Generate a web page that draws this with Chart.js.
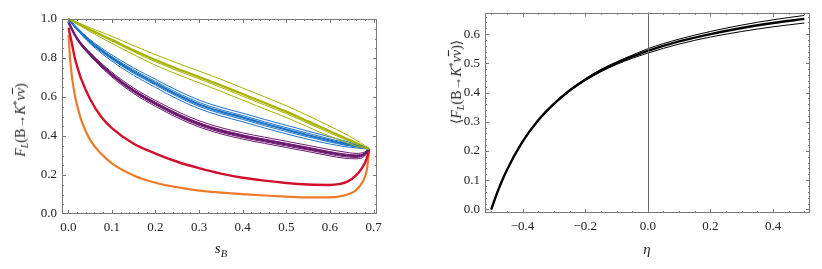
<!DOCTYPE html>
<html>
<head>
<meta charset="utf-8">
<script src="https://cdn.jsdelivr.net/npm/chart.js@4.4.1/dist/chart.umd.min.js"></script>
<style>
  body { margin: 0; background: #fff; width: 822px; height: 269px; overflow: hidden; position: relative; font-family: "Liberation Serif", "DejaVu Serif", serif; }
  canvas { position: absolute; top: 0; }
  .lbl { position: absolute; white-space: nowrap; font-size: 14px; color: #222; line-height: 1; transform: translate(-50%, -50%); }
  .lbl.rot { transform: translate(-50%, -50%) rotate(-90deg); }
  .lbl sub { font-size: 70%; vertical-align: -0.35em; }
  .lbl sup { font-size: 70%; vertical-align: 0.5em; }
  .ov { text-decoration: overline; }
</style>
</head>
<body>
<canvas id="leftChart" width="410" height="269" style="left:0"></canvas>
<canvas id="rightChart" width="412" height="269" style="left:410px"></canvas>

<div class="lbl" style="left:221px; top:250px; font-size:15px;"><i>s<sub>B</sub></i></div>
<div class="lbl rot" style="left:21px; top:120px;"><i>F<sub>L</sub></i>(B→<i>K</i><sup>*</sup><i>ν</i><i class="ov">ν</i>)</div>
<div class="lbl" style="left:647px; top:249px; font-size:15px;"><i>η</i></div>
<div class="lbl rot" style="left:457px; top:82px;">⟨<i>F<sub>L</sub></i>(B→<i>K</i><sup>*</sup><i>ν</i><i class="ov">ν</i>)⟩</div>

<script>
// ---- left panel: F_L vs s_B ----
const sA = [0, 0.02, 0.05, 0.1, 0.15, 0.2, 0.25, 0.3, 0.35, 0.4, 0.45, 0.5, 0.55, 0.6, 0.63, 0.66, 0.68, 0.69];

const yellowMid = [1, 0.979, 0.945, 0.893, 0.84, 0.79, 0.745, 0.703, 0.66, 0.615, 0.57, 0.525, 0.475, 0.424, 0.395, 0.364, 0.344, 0.333];
const yellowHi  = [1, 0.983, 0.955, 0.911, 0.863, 0.817, 0.774, 0.733, 0.691, 0.646, 0.601, 0.555, 0.504, 0.45, 0.417, 0.379, 0.351, 0.333];
const yellowLo1 = [1, 0.978, 0.942, 0.887, 0.832, 0.781, 0.735, 0.693, 0.649, 0.604, 0.559, 0.515, 0.465, 0.415, 0.387, 0.359, 0.342, 0.333];
const yellowLo2 = [1, 0.975, 0.935, 0.875, 0.817, 0.763, 0.716, 0.673, 0.629, 0.584, 0.539, 0.495, 0.446, 0.398, 0.373, 0.349, 0.337, 0.333];

const blueMid = [1, 0.95, 0.884, 0.80, 0.73, 0.67, 0.612, 0.562, 0.525, 0.495, 0.463, 0.433, 0.404, 0.377, 0.362, 0.349, 0.34, 0.333];
const blueHi2 = [1, 0.955, 0.894, 0.816, 0.749, 0.691, 0.634, 0.584, 0.547, 0.517, 0.485, 0.455, 0.425, 0.395, 0.377, 0.359, 0.345, 0.333];
const blueHi1 = [1, 0.952, 0.889, 0.807, 0.739, 0.680, 0.622, 0.572, 0.535, 0.505, 0.473, 0.443, 0.414, 0.385, 0.369, 0.354, 0.342, 0.333];
const blueLo1 = [1, 0.948, 0.880, 0.793, 0.722, 0.661, 0.602, 0.552, 0.515, 0.485, 0.453, 0.423, 0.395, 0.369, 0.355, 0.345, 0.338, 0.333];
const blueLo2 = [1, 0.945, 0.874, 0.784, 0.711, 0.649, 0.59, 0.54, 0.503, 0.473, 0.441, 0.411, 0.383, 0.359, 0.347, 0.339, 0.335, 0.333];

const purpleMid = [0.985, 0.9, 0.82, 0.715, 0.632, 0.567, 0.51, 0.462, 0.427, 0.4, 0.378, 0.357, 0.336, 0.314, 0.303, 0.297, 0.308, 0.333];
const purpleHi2 = [0.985, 0.904, 0.828, 0.727, 0.646, 0.582, 0.526, 0.478, 0.443, 0.416, 0.394, 0.373, 0.352, 0.33, 0.319, 0.311, 0.318, 0.333];
const purpleHi1 = [0.985, 0.902, 0.823, 0.72, 0.638, 0.573, 0.516, 0.468, 0.433, 0.406, 0.384, 0.363, 0.342, 0.32, 0.309, 0.303, 0.312, 0.333];
const purpleLo1 = [0.985, 0.898, 0.816, 0.709, 0.625, 0.56, 0.502, 0.454, 0.419, 0.392, 0.37, 0.349, 0.328, 0.306, 0.295, 0.29, 0.303, 0.333];
const purpleLo2 = [0.985, 0.896, 0.812, 0.703, 0.618, 0.552, 0.494, 0.446, 0.411, 0.384, 0.362, 0.341, 0.32, 0.298, 0.287, 0.283, 0.298, 0.333];

const sB = [0.001, 0.003, 0.006, 0.01, 0.015, 0.02, 0.03, 0.05, 0.075, 0.1, 0.15, 0.2, 0.25, 0.3, 0.35, 0.4, 0.45, 0.5, 0.55, 0.6, 0.62, 0.64, 0.66, 0.675, 0.685, 0.69];
const redMid    = [0.955, 0.93, 0.9, 0.855, 0.8, 0.76, 0.69, 0.59, 0.5, 0.44, 0.36, 0.31, 0.268, 0.235, 0.207, 0.186, 0.171, 0.159, 0.151, 0.149, 0.153, 0.166, 0.198, 0.24, 0.288, 0.333];
const orangeMid = [0.92, 0.83, 0.75, 0.68, 0.61, 0.56, 0.48, 0.38, 0.31, 0.26, 0.198, 0.16, 0.137, 0.12, 0.11, 0.102, 0.095, 0.089, 0.085, 0.085, 0.089, 0.1, 0.122, 0.165, 0.23, 0.333];

const leftXTicks = [0, 0.1, 0.2, 0.3, 0.4, 0.5, 0.6, 0.7];
const leftYTicks = [0, 0.2, 0.4, 0.6, 0.8, 1.0];

// ---- right panel: <F_L> vs eta ----
const eta   = [-0.5, -0.48, -0.45, -0.4, -0.35, -0.3, -0.25, -0.2, -0.15, -0.1, -0.05, 0, 0.1, 0.2, 0.3, 0.4, 0.5];
const flMid = [0, 0.06, 0.135, 0.232, 0.305, 0.361, 0.407, 0.444, 0.475, 0.501, 0.523, 0.543, 0.575, 0.6, 0.621, 0.638, 0.652];
const flHi  = [0, 0.06, 0.135, 0.233, 0.306, 0.363, 0.409, 0.447, 0.479, 0.505, 0.528, 0.55, 0.583, 0.609, 0.631, 0.649, 0.664];
const flLo  = [0, 0.06, 0.135, 0.231, 0.304, 0.359, 0.404, 0.441, 0.471, 0.496, 0.517, 0.535, 0.566, 0.59, 0.609, 0.625, 0.638];

const rightXTicks = [-0.4, -0.2, 0, 0.2, 0.4];
const rightYTicks = [0, 0.1, 0.2, 0.3, 0.4, 0.5, 0.6];

const YELLOW = '#a8b300';
const BLUE = '#1c72c4';
const PURPLE = '#6c1a6e';
const RED = '#d0102c';
const ORANGE = '#ee7b2c';

function line(xs, ys, color, width) {
    return {
        data: xs.map((x, i) => ({ x: x, y: ys[i] })),
        borderColor: color,
        borderWidth: width,
        pointRadius: 0,
        fill: false,
        clip: false,
        cubicInterpolationMode: 'monotone'
    };
}

function fmt(v) {
    return (v < 0 ? '\u2212' : '') + Math.abs(v).toFixed(1);
}

function range(a, b, step) {
    const out = [];
    for (let v = a; v <= b + 1e-9; v += step) out.push(+v.toFixed(4));
    return out;
}

// Mathematica style frame with inward ticks on all sides
const frameTicks = {
    id: 'frameTicks',
    afterDraw(chart, args, opts) {
        const { ctx, chartArea: a, scales: { x, y } } = chart;
        ctx.save();
        ctx.strokeStyle = '#777';
        ctx.lineWidth = 1;
        if (opts.zeroLine) {
            const px = Math.round(x.getPixelForValue(0)) + 0.5;
            ctx.strokeStyle = '#666';
            ctx.beginPath();
            ctx.moveTo(px, a.top);
            ctx.lineTo(px, a.bottom);
            ctx.stroke();
            ctx.strokeStyle = '#777';
        }
        ctx.strokeRect(Math.round(a.left) + 0.5, Math.round(a.top) + 0.5, Math.round(a.width) - 1, Math.round(a.height) - 1);
        ctx.beginPath();
        const xTick = (v, len) => {
            const px = Math.round(x.getPixelForValue(v)) + 0.5;
            if (px < a.left || px > a.right) return;
            ctx.moveTo(px, a.bottom); ctx.lineTo(px, a.bottom - len);
            ctx.moveTo(px, a.top); ctx.lineTo(px, a.top + len);
        };
        const yTick = (v, len) => {
            const py = Math.round(y.getPixelForValue(v)) + 0.5;
            if (py < a.top || py > a.bottom) return;
            ctx.moveTo(a.left, py); ctx.lineTo(a.left + len, py);
            ctx.moveTo(a.right, py); ctx.lineTo(a.right - len, py);
        };
        opts.xMajor.forEach(v => xTick(v, 4));
        opts.xMinor.forEach(v => xTick(v, 2));
        opts.yMajor.forEach(v => yTick(v, 4));
        opts.yMinor.forEach(v => yTick(v, 2));
        ctx.stroke();
        ctx.restore();
    }
};

function scaleOpts(min, max, ticks, fixSize, isX, pad) {
    return {
        type: 'linear',
        min: min,
        max: max,
        grid: { display: false, drawTicks: false },
        border: { display: false },
        afterBuildTicks: s => { s.ticks = ticks.map(v => ({ value: v })); },
        afterFit: s => { if (isX) s.height = fixSize; else s.width = fixSize; },
        ticks: {
            autoSkip: false,
            maxRotation: 0,
            padding: pad,
            color: '#222',
            font: { family: "'Liberation Serif', serif", size: 13 },
            callback: v => fmt(v)
        }
    };
}

function makeChart(id, datasets, padding, xs, ys, frame) {
    return new Chart(document.getElementById(id), {
        type: 'line',
        data: { datasets: datasets },
        options: {
            responsive: false,
            animation: false,
            devicePixelRatio: 1,
            layout: { padding: padding },
            plugins: { legend: { display: false }, tooltip: { enabled: false }, frameTicks: frame },
            scales: { x: xs, y: ys }
        },
        plugins: [frameTicks]
    });
}

function drawAll() {
    makeChart('leftChart', [
        line(sA, yellowHi, YELLOW, 1),
        line(sA, yellowLo1, YELLOW, 1),
        line(sA, yellowLo2, YELLOW, 1),
        line(sA, blueHi2, BLUE, 1),
        line(sA, blueHi1, BLUE, 1),
        line(sA, blueLo1, BLUE, 1),
        line(sA, blueLo2, BLUE, 1),
        line(sA, purpleHi2, PURPLE, 1),
        line(sA, purpleHi1, PURPLE, 1),
        line(sA, purpleLo1, PURPLE, 1),
        line(sA, purpleLo2, PURPLE, 1),
        line(sA, yellowMid, YELLOW, 2.2),
        line(sA, blueMid, BLUE, 2.2),
        line(sA, purpleMid, PURPLE, 2.4),
        line(sB, redMid, RED, 2.4),
        line(sB, orangeMid, ORANGE, 2.2)
    ], { left: 0, top: 19, right: 33, bottom: 0 },
        scaleOpts(-0.0144, 0.708, leftXTicks, 55, true, 6),
        scaleOpts(0, 1, leftYTicks, 62, false, 5),
        { xMajor: leftXTicks, xMinor: range(0, 0.7, 0.02), yMajor: leftYTicks, yMinor: range(0, 1, 0.05) });

    makeChart('rightChart', [
        line(eta, flHi, '#000', 1),
        line(eta, flLo, '#000', 1),
        line(eta, flMid, '#000', 2.4)
    ], { left: 0, top: 12, right: 12, bottom: 0 },
        scaleOpts(-0.52, 0.518, rightXTicks, 56, true, 6),
        scaleOpts(-0.0125, 0.673, rightYTicks, 75, false, 5),
        { xMajor: rightXTicks, xMinor: range(-0.5, 0.5, 0.05), yMajor: rightYTicks, yMinor: range(0, 0.66, 0.02), zeroLine: true });
}

// make sure the serif face is ready before the canvas text is drawn
document.fonts.load("13px 'Liberation Serif'").then(drawAll, drawAll);
</script>
</body>
</html>
